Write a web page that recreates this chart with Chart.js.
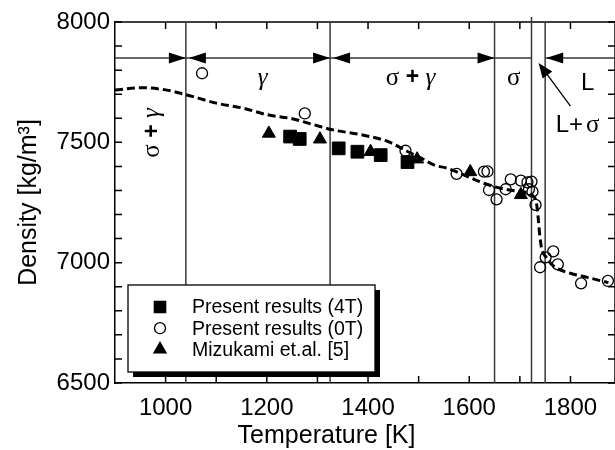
<!DOCTYPE html>
<html>
<head>
<meta charset="utf-8">
<script src="https://cdn.jsdelivr.net/npm/chart.js@4.4.1/dist/chart.umd.min.js"></script>
<style>
body { margin: 0; background: #fff; }
#wrap { width: 615px; height: 450px; }
</style>
</head>
<body>
<div id="wrap"><canvas id="chart-density"></canvas></div>
<script>
// values: temperature [K] and density [kg/m3]
var tempFit = [900, 950, 1000, 1040, 1100, 1155, 1200, 1250, 1290, 1330, 1385, 1440, 1478, 1504, 1530, 1557, 1600, 1629, 1662, 1700, 1728, 1733, 1736, 1739, 1743, 1751, 1767, 1800, 1833, 1875];
var densFit = [7717, 7727, 7718, 7698, 7663, 7641, 7615, 7598, 7575, 7552, 7532, 7503, 7462, 7436, 7406, 7392, 7355, 7330, 7309, 7295, 7274, 7245, 7190, 7120, 7060, 7025, 6985, 6956, 6939, 6917];

var temp4T = [1246, 1265, 1342, 1379, 1425, 1478];
var dens4T = [7524, 7514, 7475, 7461, 7447, 7418];

var temp0T = [1072, 1275, 1474, 1575, 1629, 1636, 1639, 1654, 1672, 1682, 1702, 1715, 1723, 1718, 1725, 1731, 1740, 1751, 1766, 1775, 1821, 1874];
var dens0T = [7787, 7620, 7465, 7369, 7378, 7379, 7302, 7263, 7305, 7346, 7341, 7334, 7337, 7305, 7295, 7240, 6981, 7022, 7047, 6993, 6914, 6924];

var tempMiz = [1204, 1305, 1405, 1497, 1602, 1702];
var densMiz = [7537, 7513, 7461, 7430, 7377, 7282];

var seriesLabels = ['Present results (4T)', 'Present results (0T)', 'Mizukami et.al. [5]'];
var xLabels = [1000, 1200, 1400, 1600, 1800];
var yLabels = [6500, 7000, 7500, 8000];

// phase boundaries [K] and the level of the arrow line
var phaseBounds = [1040, 1325, 1650, 1723, 1750];
var arrowLevel = 7850;

function pts(xs, ys) {
    return xs.map(function (x, i) { return { x: x, y: ys[i] }; });
}

var serif = "'Liberation Serif', 'Times New Roman', serif";
var sans = "'Liberation Sans', Arial, sans-serif";

Chart.defaults.font.family = sans;
Chart.defaults.color = '#000';

function arrowHead(ctx, tipX, tipY, dir) {
    // dir = 1 points right, -1 points left
    ctx.beginPath();
    ctx.moveTo(tipX, tipY);
    ctx.lineTo(tipX - dir * 17, tipY - 5.5);
    ctx.lineTo(tipX - dir * 17, tipY + 5.5);
    ctx.closePath();
    ctx.fill();
}

function textRun(ctx, parts, cx, cy) {
    var total = 0;
    parts.forEach(function (p) { ctx.font = p[1]; total += ctx.measureText(p[0]).width; });
    var x = cx - total / 2;
    ctx.textAlign = 'left';
    ctx.textBaseline = 'middle';
    parts.forEach(function (p) {
        ctx.font = p[1];
        ctx.fillText(p[0], x, cy);
        x += ctx.measureText(p[0]).width;
    });
}

var decorations = {
    id: 'decorations',
    beforeDatasetsDraw: function (chart) {
        var ctx = chart.ctx, a = chart.chartArea;
        var xs = chart.scales.x, ys = chart.scales.y;
        ctx.save();
        ctx.strokeStyle = '#000';
        ctx.fillStyle = '#000';
        ctx.lineWidth = 1.5;

        // top and right frame
        ctx.beginPath();
        ctx.moveTo(a.left, a.top);
        ctx.lineTo(a.right, a.top);
        ctx.lineTo(a.right, a.bottom);
        ctx.stroke();

        // inward ticks
        ctx.beginPath();
        xs.ticks.forEach(function (t) {
            var px = xs.getPixelForValue(t.value);
            if (px <= a.left + 1) return;
            ctx.moveTo(px, a.bottom); ctx.lineTo(px, a.bottom - 7);
            ctx.moveTo(px, a.top); ctx.lineTo(px, a.top + 7);
        });
        ys.ticks.forEach(function (t) {
            var py = ys.getPixelForValue(t.value);
            ctx.moveTo(a.left, py); ctx.lineTo(a.left + 7, py);
            ctx.moveTo(a.right, py); ctx.lineTo(a.right - 7, py);
        });
        ctx.stroke();

        // phase boundaries
        ctx.strokeStyle = '#3a3a3a';
        ctx.lineWidth = 1.5;
        ctx.beginPath();
        phaseBounds.forEach(function (t, i) {
            var px = xs.getPixelForValue(t);
            ctx.moveTo(px, i === 3 ? a.top - 5 : a.top);
            ctx.lineTo(px, a.bottom);
        });
        ctx.stroke();

        // arrow line
        var ay = ys.getPixelForValue(arrowLevel);
        var p = phaseBounds.map(function (t) { return xs.getPixelForValue(t); });
        ctx.beginPath();
        ctx.moveTo(a.left, ay); ctx.lineTo(p[3], ay);
        ctx.moveTo(p[4], ay); ctx.lineTo(a.right, ay);
        ctx.stroke();
        arrowHead(ctx, p[0], ay, 1);
        arrowHead(ctx, p[0] + 3, ay, -1);
        arrowHead(ctx, p[1], ay, 1);
        arrowHead(ctx, p[1] + 3, ay, -1);
        arrowHead(ctx, p[2], ay, 1);
        arrowHead(ctx, p[4] + 1, ay, -1);

        // phase labels
        var gy = ys.getPixelForValue(7767);
        var sigmaGamma = [['σ', '25px ' + serif], [' + ', 'bold 23px ' + sans], ['γ', 'italic 25px ' + serif]];
        textRun(ctx, [['γ', 'italic 25px ' + serif]], xs.getPixelForValue(1192), gy);
        textRun(ctx, sigmaGamma, xs.getPixelForValue(1484), gy);
        textRun(ctx, [['σ', '25px ' + serif]], xs.getPixelForValue(1688), gy);
        textRun(ctx, [['L', '24px ' + sans]], xs.getPixelForValue(1834), ys.getPixelForValue(7747));
        textRun(ctx, [['L+', '24px ' + sans], [' ', '10px ' + sans], ['σ', '25px ' + serif]], xs.getPixelForValue(1814), ys.getPixelForValue(7572));

        ctx.save();
        ctx.translate(xs.getPixelForValue(974), ys.getPixelForValue(7539));
        ctx.rotate(-Math.PI / 2);
        textRun(ctx, sigmaGamma, 0, 0);
        ctx.restore();

        // arrow to the L+sigma band
        var x1 = xs.getPixelForValue(1800), y1 = ys.getPixelForValue(7650);
        var x2 = xs.getPixelForValue(1737), y2 = ys.getPixelForValue(7830);
        var ang = Math.atan2(y2 - y1, x2 - x1);
        ctx.strokeStyle = '#000';
        ctx.lineWidth = 1.3;
        ctx.beginPath();
        ctx.moveTo(x1, y1); ctx.lineTo(x2 - 10 * Math.cos(ang), y2 - 10 * Math.sin(ang));
        ctx.stroke();
        ctx.beginPath();
        ctx.moveTo(x2, y2);
        ctx.lineTo(x2 - 15 * Math.cos(ang) + 6 * Math.sin(ang), y2 - 15 * Math.sin(ang) - 6 * Math.cos(ang));
        ctx.lineTo(x2 - 15 * Math.cos(ang) - 6 * Math.sin(ang), y2 - 15 * Math.sin(ang) + 6 * Math.cos(ang));
        ctx.closePath();
        ctx.fill();

        // x axis title, set left of the plot centre as in the figure
        ctx.fillStyle = '#000';
        ctx.font = '25px ' + sans;
        ctx.textAlign = 'center';
        ctx.textBaseline = 'middle';
        ctx.fillText('Temperature [K]', xs.getPixelForValue(1318), a.bottom + 53);
        ctx.restore();
    },
    afterDatasetsDraw: function (chart) {
        var ctx = chart.ctx, a = chart.chartArea;
        var bx = a.left + 13, by = a.top + 263, bw = 247, bh = 87;
        ctx.save();
        ctx.fillStyle = '#000';
        ctx.fillRect(bx + 5, by + 5, bw, bh);
        ctx.fillStyle = '#fff';
        ctx.fillRect(bx, by, bw, bh);
        ctx.strokeStyle = '#000';
        ctx.lineWidth = 1.3;
        ctx.strokeRect(bx, by, bw, bh);

        var markers = [
            { pointStyle: 'rect', radius: 8, fill: true },
            { pointStyle: 'circle', radius: 5.5, fill: false },
            { pointStyle: 'triangle', radius: 7, fill: true }
        ];
        ctx.font = '19.5px ' + sans;
        ctx.textAlign = 'left';
        ctx.textBaseline = 'middle';
        seriesLabels.forEach(function (lab, i) {
            var ry = by + 22 + i * 21.2;
            ctx.fillStyle = markers[i].fill ? '#000' : 'rgba(0,0,0,0)';
            ctx.strokeStyle = '#000';
            ctx.lineWidth = 1.3;
            Chart.helpers.drawPoint(ctx, { pointStyle: markers[i].pointStyle, radius: markers[i].radius, rotation: 0, borderWidth: 1.3 }, bx + 32, ry);
            ctx.fillStyle = '#000';
            ctx.fillText(lab, bx + 64, ry + 1);
        });
        ctx.restore();
    }
};

new Chart(document.getElementById('chart-density'), {
    type: 'scatter',
    data: {
        datasets: [{
            label: seriesLabels[0],
            data: pts(temp4T, dens4T),
            pointStyle: 'rect',
            pointRadius: 9,
            backgroundColor: '#000',
            borderColor: '#000',
            borderWidth: 1
        }, {
            label: seriesLabels[1],
            data: pts(temp0T, dens0T),
            pointStyle: 'circle',
            pointRadius: 5.5,
            backgroundColor: 'rgba(0,0,0,0)',
            borderColor: '#000',
            borderWidth: 1.3
        }, {
            label: seriesLabels[2],
            data: pts(tempMiz, densMiz),
            pointStyle: 'triangle',
            pointRadius: 7.5,
            backgroundColor: '#000',
            borderColor: '#000',
            borderWidth: 1
        }, {
            label: 'fit',
            data: pts(tempFit, densFit),
            showLine: true,
            pointRadius: 0,
            borderColor: '#000',
            borderWidth: 3,
            borderDash: [8, 4],
            cubicInterpolationMode: 'monotone',
            fill: false
        }]
    },
    options: {
        responsive: true,
        maintainAspectRatio: false,
        animation: false,
        layout: { autoPadding: false, padding: { top: 22, right: 0, bottom: 0, left: 0 } },
        plugins: {
            legend: { display: false },
            tooltip: { enabled: false }
        },
        scales: {
            x: {
                type: 'linear',
                position: 'bottom',
                min: 900,
                max: 1888,
                grid: { display: true, drawOnChartArea: false, drawTicks: false },
                border: { display: true, color: '#000', width: 1.5 },
                ticks: {
                    display: true,
                    stepSize: 100,
                    includeBounds: false,
                    maxRotation: 0,
                    minRotation: 0,
                    autoSkip: false,
                    padding: 11,
                    color: '#000',
                    font: { size: 24 },
                    callback: function (v) {
                        var r = Math.round(v);
                        return xLabels.indexOf(r) >= 0 ? String(r) : '';
                    }
                },
                afterFit: function (scale) { scale.height = 67; }
            },
            y: {
                min: 6500,
                max: 8000,
                grid: { display: true, drawOnChartArea: false, drawTicks: false },
                border: { display: true, color: '#000', width: 1.5 },
                ticks: {
                    stepSize: 100,
                    autoSkip: false,
                    padding: 5,
                    font: { size: 24 },
                    callback: function (v) {
                        var r = Math.round(v);
                        return yLabels.indexOf(r) >= 0 ? String(r) : '';
                    }
                },
                title: { display: true, text: 'Density [kg/m³]', font: { size: 25 }, padding: { top: 14, bottom: 0 } },
                afterFit: function (scale) { scale.width = 115; }
            }
        }
    },
    plugins: [decorations]
});
</script>
</body>
</html>
